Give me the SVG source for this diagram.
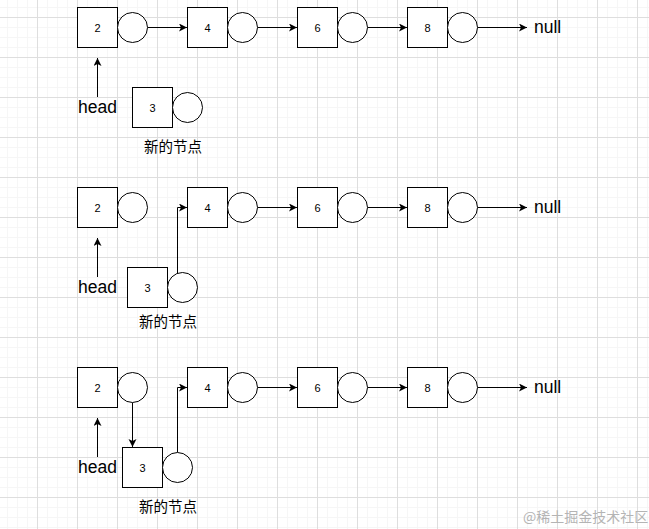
<svg xmlns="http://www.w3.org/2000/svg" width="649" height="529" viewBox="0 0 649 529">
<defs>
<pattern id="minor" x="7" y="7" width="10" height="10" patternUnits="userSpaceOnUse">
<path d="M0 0.5H10M0.5 0V10" fill="none" stroke="#f6f6f6" stroke-width="1"/>
</pattern>
<pattern id="major" x="37" y="17" width="40" height="40" patternUnits="userSpaceOnUse">
<path d="M0 0.5H40M0.5 0V40" fill="none" stroke="#dedede" stroke-width="1"/>
</pattern>
<marker id="arr" markerUnits="userSpaceOnUse" markerWidth="10" markerHeight="10" refX="8" refY="4" orient="auto" viewBox="0 0 10 10">
<path d="M0,0 L8,4 L0,8 L2,4 Z" fill="#000"/>
</marker>
<style>
.box{fill:#fff;stroke:#000;stroke-width:1}
.cir{fill:#fff;stroke:#000;stroke-width:1}
.num{font-family:"Liberation Sans",Arial,sans-serif;font-size:11px;text-anchor:middle;fill:#000}
.lbl{font-family:"Liberation Sans",Arial,sans-serif;font-size:17.5px;fill:#000}
.cn{font-family:"Liberation Sans","Noto Sans CJK SC",sans-serif;font-size:14.5px;text-anchor:middle;fill:#000}
.edge{fill:none;stroke:#000;stroke-width:1;marker-end:url(#arr)}
</style>
</defs>
<rect width="649" height="529" fill="#fff"/>
<rect width="649" height="529" fill="url(#minor)"/>
<rect width="649" height="529" fill="url(#major)"/>

<g id="connectors">
<path class="edge" d="M147.5 27.5H187"/>
<path class="edge" d="M257.5 27.5H297"/>
<path class="edge" d="M367.5 27.5H407"/>
<path class="edge" d="M477.5 27.5H527"/>
<path class="edge" d="M97.5 97V58"/>
<path class="edge" d="M257.5 207.5H297"/>
<path class="edge" d="M367.5 207.5H407"/>
<path class="edge" d="M477.5 207.5H527"/>
<path class="edge" d="M97.5 277V238"/>
<path class="edge" d="M177.5 273V207.5H187"/>
<path class="edge" d="M257.5 387.5H297"/>
<path class="edge" d="M367.5 387.5H407"/>
<path class="edge" d="M477.5 387.5H527"/>
<path class="edge" d="M97.5 457V418"/>
<path class="edge" d="M177.5 452.5V387.5H187"/>
<path class="edge" d="M132.5 402.5V447"/>
</g>

<g id="r1n2"><rect class="box" x="77.5" y="7.5" width="40" height="40"/><circle class="cir" cx="132.5" cy="27.5" r="15"/><text class="num" x="97.5" y="31.5">2</text></g>
<g id="r1n4"><rect class="box" x="187.5" y="7.5" width="40" height="40"/><circle class="cir" cx="242.5" cy="27.5" r="15"/><text class="num" x="207.5" y="31.5">4</text></g>
<g id="r1n6"><rect class="box" x="297.5" y="7.5" width="40" height="40"/><circle class="cir" cx="352.5" cy="27.5" r="15"/><text class="num" x="317.5" y="31.5">6</text></g>
<g id="r1n8"><rect class="box" x="407.5" y="7.5" width="40" height="40"/><circle class="cir" cx="462.5" cy="27.5" r="15"/><text class="num" x="427.5" y="31.5">8</text></g>
<g id="r1null"><text class="lbl" x="534" y="33">null</text></g>
<g id="r1head"><text class="lbl" x="97.5" y="113" text-anchor="middle">head</text></g>
<g id="r1n3"><rect class="box" x="132.5" y="87.5" width="40" height="40"/><circle class="cir" cx="187.5" cy="107.5" r="15"/><text class="num" x="152.5" y="111.5">3</text></g>
<g id="r1new"><text class="cn" x="173" y="152">新的节点</text></g>

<g id="r2n2"><rect class="box" x="77.5" y="187.5" width="40" height="40"/><circle class="cir" cx="132.5" cy="207.5" r="15"/><text class="num" x="97.5" y="211.5">2</text></g>
<g id="r2n4"><rect class="box" x="187.5" y="187.5" width="40" height="40"/><circle class="cir" cx="242.5" cy="207.5" r="15"/><text class="num" x="207.5" y="211.5">4</text></g>
<g id="r2n6"><rect class="box" x="297.5" y="187.5" width="40" height="40"/><circle class="cir" cx="352.5" cy="207.5" r="15"/><text class="num" x="317.5" y="211.5">6</text></g>
<g id="r2n8"><rect class="box" x="407.5" y="187.5" width="40" height="40"/><circle class="cir" cx="462.5" cy="207.5" r="15"/><text class="num" x="427.5" y="211.5">8</text></g>
<g id="r2null"><text class="lbl" x="534" y="213">null</text></g>
<g id="r2head"><text class="lbl" x="97.5" y="293" text-anchor="middle">head</text></g>
<g id="r2n3"><rect class="box" x="127.5" y="267.5" width="40" height="40"/><circle class="cir" cx="182.5" cy="287.5" r="15"/><text class="num" x="147.5" y="291.5">3</text></g>
<g id="r2new"><text class="cn" x="168" y="327">新的节点</text></g>

<g id="r3n2"><rect class="box" x="77.5" y="367.5" width="40" height="40"/><circle class="cir" cx="132.5" cy="387.5" r="15"/><text class="num" x="97.5" y="391.5">2</text></g>
<g id="r3n4"><rect class="box" x="187.5" y="367.5" width="40" height="40"/><circle class="cir" cx="242.5" cy="387.5" r="15"/><text class="num" x="207.5" y="391.5">4</text></g>
<g id="r3n6"><rect class="box" x="297.5" y="367.5" width="40" height="40"/><circle class="cir" cx="352.5" cy="387.5" r="15"/><text class="num" x="317.5" y="391.5">6</text></g>
<g id="r3n8"><rect class="box" x="407.5" y="367.5" width="40" height="40"/><circle class="cir" cx="462.5" cy="387.5" r="15"/><text class="num" x="427.5" y="391.5">8</text></g>
<g id="r3null"><text class="lbl" x="534" y="393">null</text></g>
<g id="r3head"><text class="lbl" x="97.5" y="473" text-anchor="middle">head</text></g>
<g id="r3n3"><rect class="box" x="122.5" y="447.5" width="40" height="40"/><circle class="cir" cx="177.5" cy="467.5" r="15"/><text class="num" x="142.5" y="471.5">3</text></g>
<g id="r3new"><text class="cn" x="168" y="512">新的节点</text></g>

<g id="watermark"><text x="523" y="522" font-family="'Noto Sans CJK SC',sans-serif" font-size="14" fill="#b4b4b4">@稀土掘金技术社区</text></g>
</svg>
